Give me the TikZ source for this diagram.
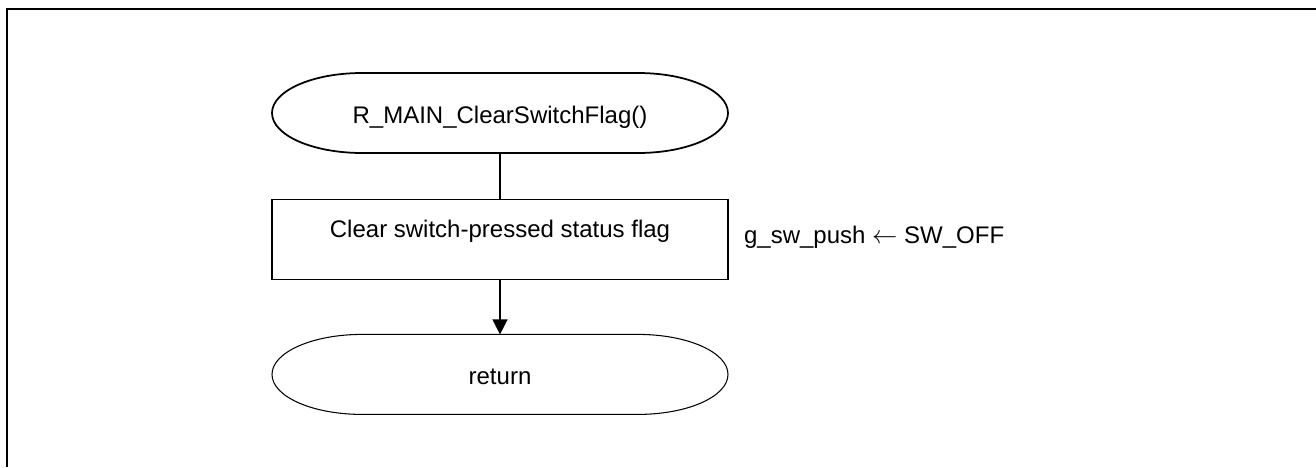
\documentclass[tikz,border=0pt]{standalone}
\usepackage{fontspec}
\setmainfont{Liberation Sans}
\usetikzlibrary{positioning,arrows.meta}

\tikzset{
  terminal/.style={minimum width=9.12cm, text height=1cm, text depth=0.6cm, inner sep=0pt, outer sep=0pt},
  process/.style={draw, line width=0.8pt, minimum width=9.12cm, text height=0.76cm, text depth=0.84cm, inner xsep=0pt, inner ysep=0pt},
  flow/.style={line width=0.8pt}
}

% Outline of a terminal node: flat top and bottom, elliptic ends
\newcommand{\stadium}[2][0.8pt]{%
  \draw[line width=#1] ([xshift=1.8cm]#2.north west) -- ([xshift=-1.8cm]#2.north east)
    arc[start angle=90, end angle=-90, x radius=1.8cm, y radius=0.8cm]
    -- ([xshift=1.8cm]#2.south west)
    arc[start angle=270, end angle=90, x radius=1.8cm, y radius=0.8cm] -- cycle;}

\begin{document}
\begin{tikzpicture}[font=\fontsize{13.66pt}{16pt}\selectfont]
\useasboundingbox (0,0) rectangle (26.32,9.34);

% Frame of the figure, only its top and left edges are in view
\draw [line width=0.04cm] (0.14,0) -- (0.14,9.16) -- (26.32,9.16);

% Start, process step and end of the flow
\node [terminal] (start) at (10,7.08) {R\_MAIN\_ClearSwitchFlag()};
\node [process, below=0.92cm of start] (clear) {Clear switch-pressed status flag};
\node [terminal, below=1.08cm of clear] (return) {return};
\stadium[1pt]{start}
\stadium[0.6pt]{return}

% Assignment done by the process step
\node [anchor=base west, inner sep=0pt] (assign) at ([xshift=0.3cm,yshift=-0.12cm]clear.base east) {g\_sw\_push $\leftarrow$ SW\_OFF};

% Connectors between the steps
\draw [flow] (start) -- (clear);
\draw [flow, -{Triangle[length=0.3cm,width=0.3cm]}] (clear) -- (return);
\end{tikzpicture}
\end{document}
